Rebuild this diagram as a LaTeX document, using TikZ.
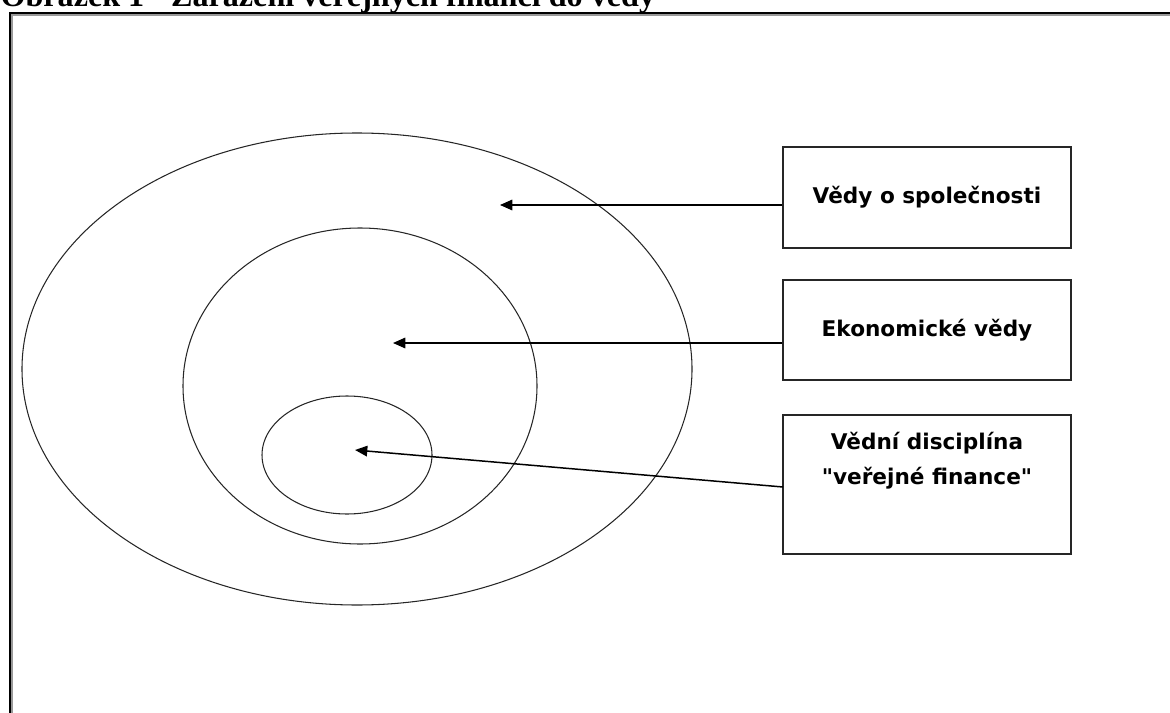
\documentclass[tikz,border=0pt]{standalone}
\usepackage{fontspec}
\setmainfont{Liberation Serif}
\newfontfamily\boxfont{DejaVu Sans}
\usetikzlibrary{arrows.meta}

\begin{document}
\begin{tikzpicture}[
x=0.02cm, y=-0.02cm,
line width=0.6pt,
ring/.style={draw=black!85, line width=0.6pt},
infobox/.style={draw=black!85, line width=0.8pt, minimum width=288*0.02cm, inner sep=0pt,
  font=\boxfont\bfseries\fontsize{12.3}{19.8}\selectfont, align=center},
pointer/.style={-{Triangle[length=7pt, width=6pt]}, line width=0.85pt}
]
\useasboundingbox (0,0) rectangle (1170,713);
\clip (0,0) rectangle (1170,713);

\node[anchor=base west, inner sep=0pt, font=\bfseries\fontsize{18.3}{20}\selectfont] (title) at (0,6.5)
  {Obrázek 1 - Zařazení veřejných financí do vědy};
\draw[black!40, line width=0.6pt] (12,720) -- (12,15) -- (1180,15);
\draw[line width=1.1pt] (10,720) -- (10,13) -- (1180,13);

\draw[ring] (357,369) ellipse [x radius=335, y radius=236];
\draw[ring] (360,386) ellipse [x radius=177, y radius=158];
\draw[ring] (347,455) ellipse [x radius=85, y radius=59];

\node[infobox, minimum height=101*0.02cm] (society) at (927,197.5) {Vědy o společnosti};
\node[infobox, minimum height=100*0.02cm] (economics) at (927,330) {Ekonomické vědy};
\node[infobox, minimum height=139*0.02cm] (finance) at (927,484.5)
  {Vědní disciplína\\"veřejné finance"\\[10pt]\mbox{}};

\coordinate (p1) at (500,205);
\coordinate (p2) at (393,343);
\coordinate (p3) at (355,450);
\coordinate (s3) at (783,487);

\draw[pointer] (society.west |- p1) -- (p1);
\draw[pointer] (economics.west |- p2) -- (p2);
\draw[pointer] (s3) -- (p3);
\end{tikzpicture}
\end{document}
